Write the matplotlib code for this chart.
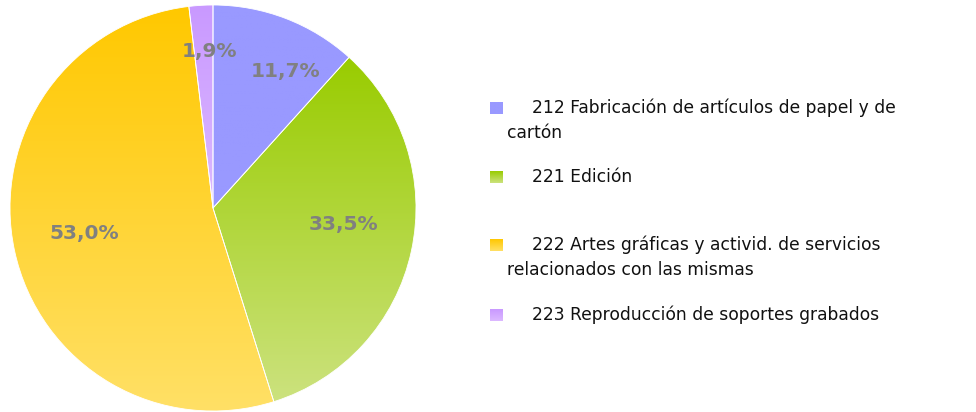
import numpy as np
import matplotlib.pyplot as plt
from matplotlib.colors import LinearSegmentedColormap

labels = ['212 Fabricación de artículos de papel y de\ncartón',
          '221 Edición',
          '222 Artes gráficas y activid. de servicios\nrelacionados con las mismas',
          '223 Reproducción de soportes grabados']
values = [11.7, 33.5, 53.0, 1.9]
# top / bottom colour of each slice's vertical gradient
top_colors = ['#9999ff', '#99cc00', '#ffc800', '#c999ff']
bottom_colors = ['#9999ff', '#cce27e', '#ffe066', '#dcb9ff']

W, H = 976, 412
fig = plt.figure(figsize=(W / 100, H / 100), dpi=100)
ax = fig.add_axes([0, 0, 1, 1])
ax.set_xlim(0, W)
ax.set_ylim(0, H)
ax.axis('off')

cx, cy, r = 213, H - 208, 203
wedges, _ = ax.pie(values, startangle=90, counterclock=False,
                   center=(cx, cy), radius=r, frame=True,
                   wedgeprops=dict(edgecolor='white', linewidth=0.6))

grad = np.linspace(0, 1, 256).reshape(-1, 1)
for w, c0, c1 in zip(wedges, top_colors, bottom_colors):
    x0, y0, x1, y1 = w.get_path().get_extents().extents
    cmap = LinearSegmentedColormap.from_list('g', [c1, c0])
    im = ax.imshow(grad, cmap=cmap, extent=(x0, x1, y0, y1), origin='lower',
                   aspect='auto', zorder=1)
    im.set_clip_path(w)
    w.set_facecolor('none')
    w.set_zorder(2)

# percentage labels (radial distance and small angle nudge per slice)
label_dist = [0.76, 0.65, 0.645, 0.77]
label_nudge = [-7, 5, -1, -2]
start = 90.0
total = sum(values)
for v, d, a in zip(values, label_dist, label_nudge):
    mid = np.deg2rad(start - v / total * 180 + a)
    start -= v / total * 360
    ax.text(cx + d * r * np.cos(mid), cy + d * r * np.sin(mid),
            f'{v:.1f}%'.replace('.', ','), ha='center', va='center',
            fontsize=14.5, fontweight='bold', color='#808080', zorder=3)

# legend
leg_y = [108, 177, 245, 315]
for lab, y, c0, c1 in zip(labels, leg_y, top_colors, bottom_colors):
    cmap = LinearSegmentedColormap.from_list('g', [c1, c0])
    ax.imshow(grad, cmap=cmap, extent=(490, 503, H - y - 6, H - y + 6),
              origin='lower', aspect='auto', zorder=3)
    lines = lab.split('\n')
    ax.text(532, H - y, lines[0], fontsize=12.3, va='center', ha='left', color='#111111')
    for k, ln in enumerate(lines[1:], 1):
        ax.text(507, H - y - 25 * k, ln, fontsize=12.3, va='center', ha='left', color='#111111')

ax.set_xlim(0, W)
ax.set_ylim(0, H)
ax.set_aspect('auto')
plt.savefig('out.png', dpi=100)
